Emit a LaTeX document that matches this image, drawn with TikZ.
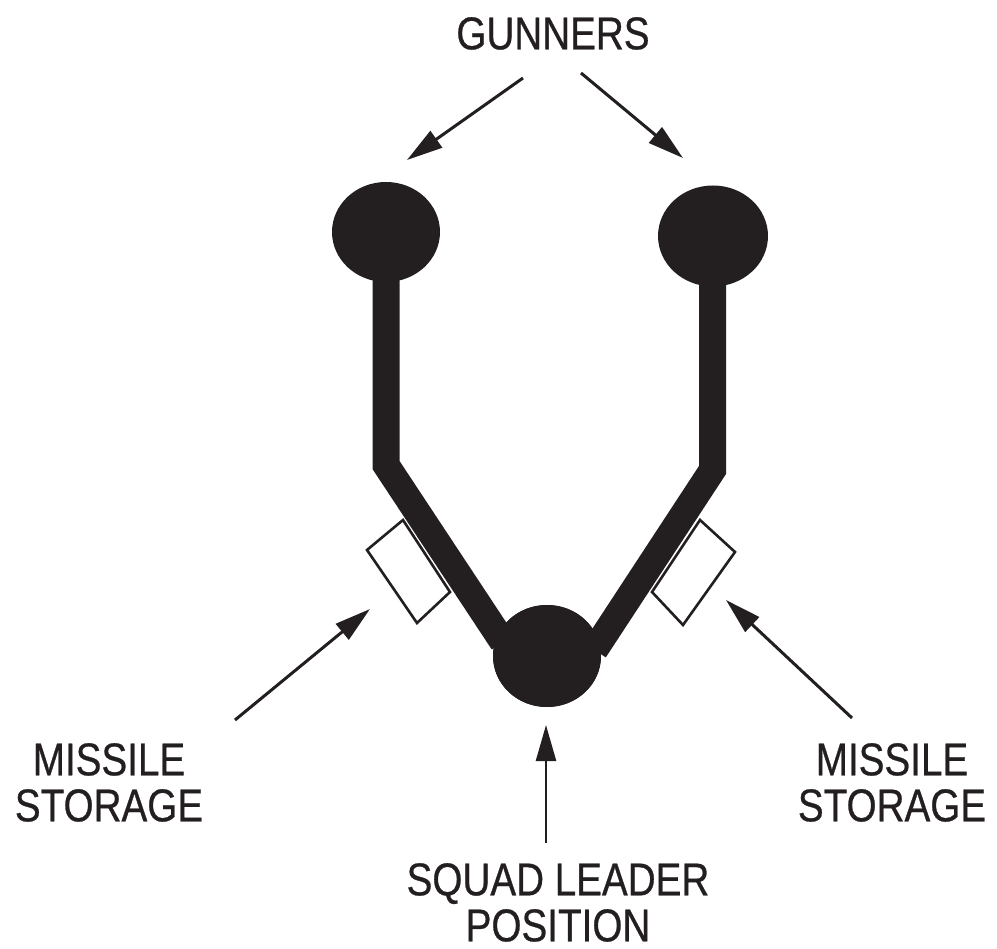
\documentclass[tikz,border=0pt]{standalone}
\usepackage{fontspec}
\newfontfamily\lab[FakeStretch=0.84,FakeBold=0.6]{Liberation Sans}
\usetikzlibrary{arrows.meta,shapes.geometric}
\definecolor{ink}{HTML}{231F20}
\begin{document}
\begin{tikzpicture}[x=1pt,y=-1pt,
  blob/.style={ellipse,fill=ink,draw=none,inner sep=0pt},
  bar/.style={draw=ink,line width=27pt,line join=miter,line cap=butt},
  crate/.style={draw=ink,fill=white,line width=2.6pt,line join=miter},
  arr/.style={draw=ink,line width=3pt,-{Triangle[length=36pt,width=20pt]}},
  label/.style={text=ink,font=\lab\fontsize{46}{46}\selectfont,align=center,inner sep=0pt,anchor=north}]
\useasboundingbox (0,0) rectangle (997,949);
% storage boxes (behind the trench)
\draw[crate] (367,550) -- (403,520) -- (450,592) -- (417,623) -- cycle;
\draw[crate] (700,520) -- (735,552) -- (683,625) -- (652,592) -- cycle;
% positions
\node[blob,minimum width=108pt,minimum height=100pt] (lg) at (386,232) {};
\node[blob,minimum width=110pt,minimum height=101pt] (rg) at (713,236) {};
\node[blob,minimum width=108pt,minimum height=102pt] (sl) at (547,656) {};
% trench
\coordinate (lbend) at (386,465);
\coordinate (lend) at (503,642);
\coordinate (rbend) at (712.5,470);
\coordinate (rend) at (594.5,650);
\draw[bar] (386,260) -- (lbend) -- (lend);
\draw[bar] (712.5,265) -- (rbend) -- (rend);
\node[blob,minimum width=108pt,minimum height=102pt] at (sl) {};
% labels
\node[label] (gun) at (553,17) {GUNNERS};
\node[label] (msl) at (109,743) {MISSILE\\STORAGE};
\node[label] (msr) at (892,743) {MISSILE\\STORAGE};
\node[label] (sql) at (558,863) {SQUAD LEADER\\POSITION};
% arrows
\coordinate (g1t) at (523,78);   \coordinate (g1h) at (407,160);
\coordinate (g2t) at (581,73);   \coordinate (g2h) at (683,158);
\coordinate (s1t) at (235,720);  \coordinate (s1h) at (370,609);
\coordinate (s2t) at (852,718);  \coordinate (s2h) at (726,600);
\coordinate (q1t) at (546,843);  \coordinate (q1h) at (546,725);
\draw[arr] (g1t) -- (g1h);
\draw[arr] (g2t) -- (g2h);
\draw[arr] (s1t) -- (s1h);
\draw[arr] (s2t) -- (s2h);
\draw[arr,line width=2.4pt] (q1t) -- (q1h);
\end{tikzpicture}
\end{document}
